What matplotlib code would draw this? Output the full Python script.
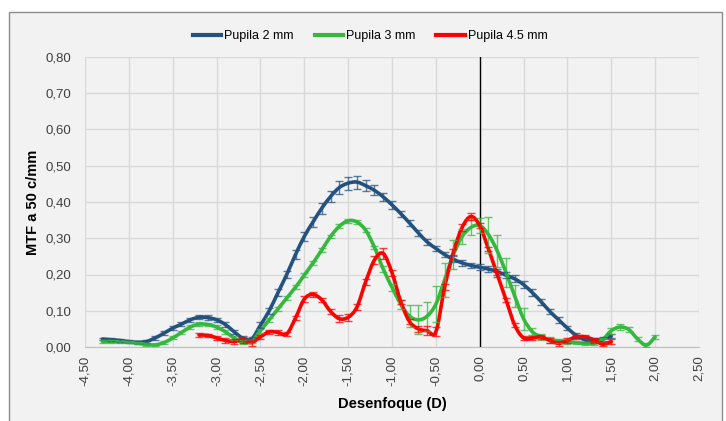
import numpy as np
import matplotlib
matplotlib.use("Agg")
import matplotlib.pyplot as plt
from matplotlib.path import Path
from matplotlib.patches import PathPatch, Rectangle
from matplotlib.lines import Line2D
from matplotlib.ticker import FuncFormatter, MultipleLocator

plt.rcParams['font.family'] = ['Liberation Sans Narrow', 'Liberation Sans', 'DejaVu Sans']

# ---------------- data ----------------
x_2mm = np.round(np.arange(-4.3, 1.5001, 0.1), 2)
mtf_2mm = [0.022, 0.020, 0.018, 0.015, 0.013, 0.015, 0.025, 0.038, 0.052, 0.063,
           0.075, 0.082, 0.081, 0.075, 0.062, 0.042, 0.024, 0.022, 0.060, 0.100,
           0.150, 0.200, 0.255, 0.305, 0.345, 0.383, 0.415, 0.440, 0.452, 0.455,
           0.445, 0.432, 0.414, 0.392, 0.368, 0.342, 0.315, 0.290, 0.272, 0.255,
           0.242, 0.232, 0.225, 0.220, 0.215, 0.208, 0.198, 0.188, 0.172, 0.150,
           0.125, 0.098, 0.075, 0.052, 0.032, 0.020, 0.018, 0.022, 0.030]
err_2mm = [0.004, 0.004, 0.004, 0.004, 0.004, 0.004, 0.005, 0.005, 0.005, 0.006,
           0.006, 0.006, 0.006, 0.006, 0.006, 0.006, 0.006, 0.006, 0.008, 0.008,
           0.010, 0.010, 0.012, 0.012, 0.014, 0.015, 0.016, 0.017, 0.018, 0.018,
           0.016, 0.014, 0.012, 0.010, 0.008, 0.008, 0.008, 0.008, 0.008, 0.008,
           0.008, 0.008, 0.008, 0.008, 0.008, 0.008, 0.008, 0.010, 0.010, 0.010,
           0.008, 0.008, 0.008, 0.006, 0.006, 0.006, 0.006, 0.006, 0.006]

x_3mm = np.round(np.arange(-4.3, 2.0001, 0.1), 2)
mtf_3mm = [0.015, 0.015, 0.014, 0.013, 0.011, 0.007, 0.006, 0.012, 0.025, 0.040,
           0.055, 0.063, 0.062, 0.055, 0.042, 0.025, 0.013, 0.015, 0.045, 0.075,
           0.105, 0.135, 0.165, 0.198, 0.232, 0.268, 0.305, 0.333, 0.348, 0.345,
           0.322, 0.275, 0.215, 0.165, 0.118, 0.085, 0.075, 0.085, 0.118, 0.185,
           0.255, 0.305, 0.330, 0.335, 0.310, 0.265, 0.205, 0.140, 0.078, 0.042,
           0.028, 0.020, 0.017, 0.015, 0.012, 0.010, 0.010, 0.020, 0.045, 0.055,
           0.048, 0.022, 0.005, 0.028]
err_3mm = [0.003, 0.003, 0.003, 0.003, 0.003, 0.003, 0.003, 0.004, 0.004, 0.004,
           0.005, 0.005, 0.005, 0.005, 0.005, 0.005, 0.005, 0.005, 0.005, 0.005,
           0.005, 0.005, 0.005, 0.005, 0.005, 0.005, 0.005, 0.005, 0.005, 0.005,
           0.005, 0.005, 0.008, 0.010, 0.012, 0.030, 0.040, 0.040, 0.050, 0.048,
           0.040, 0.020, 0.020, 0.020, 0.050, 0.045, 0.040, 0.030, 0.030, 0.010,
           0.008, 0.008, 0.006, 0.006, 0.005, 0.005, 0.005, 0.006, 0.008, 0.008,
           0.006, 0.005, 0.005, 0.005]

x_45mm = np.round(np.arange(-3.2, 1.5001, 0.1), 2)
mtf_45mm = [0.033, 0.032, 0.025, 0.018, 0.015, 0.020, 0.012, 0.028, 0.042, 0.040,
            0.036, 0.080, 0.132, 0.145, 0.130, 0.098, 0.078, 0.082, 0.110, 0.180,
            0.240, 0.258, 0.205, 0.125, 0.070, 0.050, 0.045, 0.042, 0.165, 0.262,
            0.330, 0.360, 0.335, 0.270, 0.200, 0.130, 0.060, 0.025, 0.025, 0.028,
            0.018, 0.010, 0.018, 0.028, 0.028, 0.020, 0.008, 0.015]
err_45mm = [0.005, 0.005, 0.005, 0.006, 0.008, 0.008, 0.008, 0.006, 0.006, 0.006,
            0.006, 0.006, 0.008, 0.008, 0.006, 0.006, 0.010, 0.010, 0.008, 0.008,
            0.012, 0.015, 0.008, 0.006, 0.006, 0.008, 0.012, 0.012, 0.008, 0.008,
            0.010, 0.010, 0.008, 0.006, 0.006, 0.006, 0.006, 0.006, 0.006, 0.006,
            0.006, 0.006, 0.006, 0.006, 0.006, 0.006, 0.006, 0.006]

series_names = ["Pupila 2 mm", "Pupila 3 mm", "Pupila 4.5 mm"]
colors = ["#24527f", "#35b83e", "#ff0000"]


def smooth_path(x, y):
    pts = np.column_stack([x, y])
    n = len(pts)
    verts = [pts[0]]
    codes = [Path.MOVETO]
    for i in range(n - 1):
        p0 = pts[max(i - 1, 0)]
        p1 = pts[i]
        p2 = pts[i + 1]
        p3 = pts[min(i + 2, n - 1)]
        c1 = p1 + (p2 - p0) / 6.0
        c2 = p2 - (p3 - p1) / 6.0
        verts += [c1, c2, p2]
        codes += [Path.CURVE4] * 3
    return Path(verts, codes)


W, H = 726, 421
fig = plt.figure(figsize=(W / 100, H / 100), dpi=100, facecolor="white")
fig.patches.append(Rectangle((9 / W, -0.01), (722 - 9) / W, (421 - 12) / H + 0.01,
                             transform=fig.transFigure, facecolor="#f2f2f2",
                             edgecolor="#8c8c8c", lw=1.0, zorder=-10))

ax = fig.add_axes([85 / W, 1 - 347 / H, (699 - 85) / W, (347 - 57) / H])
ax.set_zorder(1)
ax.set_facecolor("#f2f2f2")
ax.patch.set_alpha(0)

ax.set_xlim(-4.5, 2.5)
ax.set_ylim(0, 0.8)
ax.xaxis.set_major_locator(MultipleLocator(0.5))
ax.yaxis.set_major_locator(MultipleLocator(0.1))
ax.xaxis.set_major_formatter(FuncFormatter(lambda v, p: f"{v:.2f}".replace(".", ",").replace("-0,00", "0,00")))
ax.yaxis.set_major_formatter(FuncFormatter(lambda v, p: f"{v:.2f}".replace(".", ",")))
ax.grid(True, color="#d9d9d9", lw=1.0)
ax.set_axisbelow(True)
for s in ["top", "right", "left"]:
    ax.spines[s].set_visible(False)
ax.spines["bottom"].set_color("#bfbfbf")
ax.tick_params(axis="both", length=0, labelsize=9.5, colors="#404040")
ax.tick_params(axis="x", rotation=90, pad=6)
ax.tick_params(axis="y", pad=10)

ax.axvline(0, color="black", lw=1.0, zorder=2)

data = [(x_2mm, mtf_2mm, err_2mm), (x_3mm, mtf_3mm, err_3mm), (x_45mm, mtf_45mm, err_45mm)]
for (xv, yv, ev), c in zip(data, colors):
    ax.add_patch(PathPatch(smooth_path(xv, yv), facecolor="none", edgecolor=c,
                           lw=2.6, capstyle="round", joinstyle="round", zorder=3))
    ax.errorbar(xv, yv, yerr=ev, fmt="none", ecolor=c, alpha=0.75,
                elinewidth=1.0, capsize=3, capthick=1.0, zorder=4)

ax.set_xlabel("Desenfoque (D)", fontsize=10.5, fontweight="bold", labelpad=8)
ax.set_ylabel("MTF a 50 c/mm", fontsize=10.5, fontweight="bold", labelpad=4)

handles = [Line2D([], [], color=c, lw=3) for c in colors]
fig.legend(handles, series_names, loc="center", bbox_to_anchor=(370 / W, 1 - 36 / H),
           ncol=3, frameon=False, fontsize=9, handlelength=2.3, columnspacing=1.7,
           handletextpad=0.2)

fig.savefig("out.png", dpi=100, facecolor="white")
